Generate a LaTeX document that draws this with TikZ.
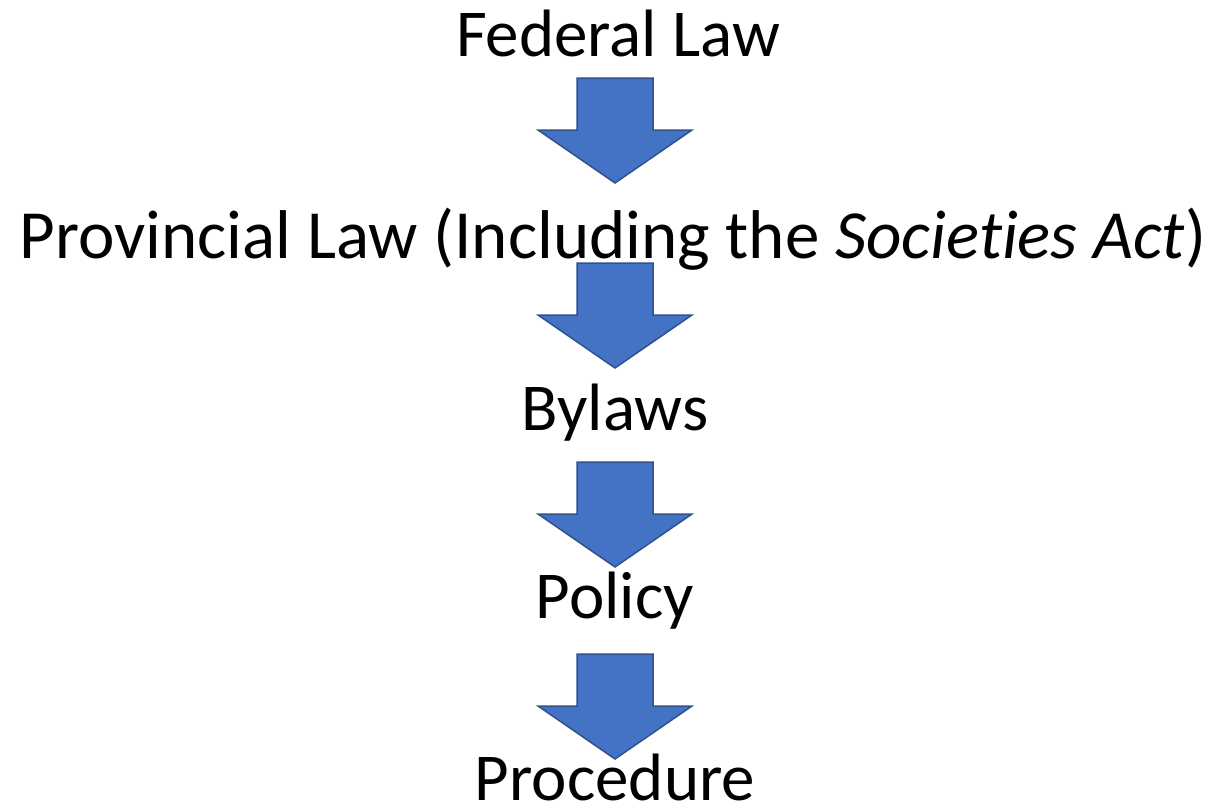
\documentclass[tikz,border=0pt]{standalone}
\usepackage{fontspec}
\setmainfont{Carlito}[Ligatures=NoCommon]

\definecolor{arrowfill}{RGB}{68,114,196}
\definecolor{arrowline}{RGB}{47,82,143}

\tikzstyle{level}=[font=\fontsize{67}{80}\selectfont, anchor=base, inner sep=0pt]
\tikzstyle{widelevel}=[level, font=\fontsize{69}{80}\selectfont]
\tikzstyle{blockarrow}=[fill=arrowfill, draw=arrowline, line width=1.5pt, line join=miter]

\begin{document}
\begin{tikzpicture}[x=1pt, y=-1pt]
    \useasboundingbox (0,0) rectangle (1216,806);
    % First we place the levels
    \foreach \pos/\name/\txt in {{(618,56)/fed/Federal Law},
        {(615,430)/bylaws/Bylaws}, {(615,618)/policy/Policy},
        {(615,800)/proc/Procedure}}
        \node[level] (\name) at \pos {\txt};
    \node[widelevel] (prov) at (613,258)
        {Provincial Law (Including the \textit{Societies Act})};
    % Then the block arrows between them
    \foreach \top in {78,263,462,654}
        \path[blockarrow] (577,\top) -- (653,\top) -- (653,\top+52) -- (692,\top+52)
            -- (615,\top+105) -- (538,\top+52) -- (577,\top+52) -- cycle;
\end{tikzpicture}
\end{document}
